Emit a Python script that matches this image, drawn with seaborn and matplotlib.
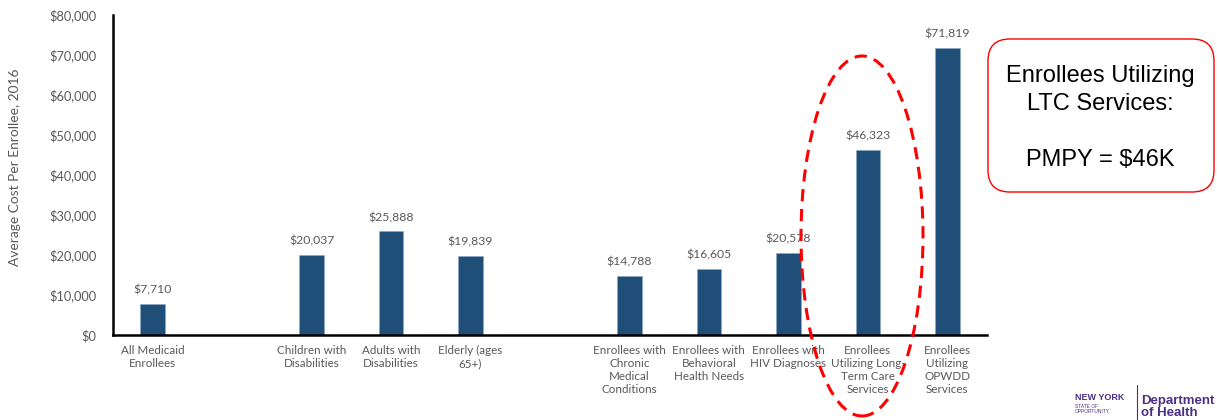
import matplotlib
matplotlib.use("Agg")
import matplotlib.pyplot as plt
import seaborn as sns
import pandas as pd
from matplotlib.patches import Ellipse, FancyBboxPatch

categories = ["All Medicaid\nEnrollees", "Children with\nDisabilities", "Adults with\nDisabilities",
              "Elderly (ages\n65+)", "Enrollees with\nChronic\nMedical\nConditions",
              "Enrollees with\nBehavioral\nHealth Needs", "Enrollees with\nHIV Diagnoses",
              "Enrollees\nUtilizing Long-\nTerm Care\nServices", "Enrollees\nUtilizing\nOPWDD\nServices"]
values = [7710, 20037, 25888, 19839, 14788, 16605, 20578, 46323, 71819]
# slot order with blank spacer slots
order = [categories[0], " ", categories[1], categories[2], categories[3], "  ",
         categories[4], categories[5], categories[6], categories[7], categories[8]]
yticks = [0, 10000, 20000, 30000, 40000, 50000, 60000, 70000, 80000]

sns.set_theme(style="white")
plt.rcParams["font.family"] = ["Lato", "DejaVu Sans"]

df = pd.DataFrame({"cat": categories, "val": values})
fig = plt.figure(figsize=(12.17, 4.2), dpi=100)
ax = fig.add_axes([113/1217, 1-335/420, (987-113)/1217, (335-15)/420])
sns.barplot(data=df, x="cat", y="val", order=order, color="#1F4E79", width=0.31,
            saturation=1, ax=ax, edgecolor="#8FA8C4", linewidth=0.4)

gray = "#595959"
ax.set_ylim(0, 80000)
ax.set_xlim(-0.5, len(order) - 0.5)
ax.set_yticks(yticks)
ax.set_yticklabels([f"${v:,}" for v in yticks], color=gray, fontsize=9.2)
ax.set_xticks(range(len(order)))
ax.set_xticklabels([o.strip() for o in order], color=gray, fontsize=8.4, linespacing=1.25, va="top")
ax.tick_params(axis="both", length=0)
ax.tick_params(axis="y", pad=12)
ax.tick_params(axis="x", pad=7)
ax.set_xlabel("")
ax.set_ylabel("Average Cost Per Enrollee, 2016", color=gray, fontsize=9.9)
ax.yaxis.set_label_coords(-0.105, 0.525)
for s in ["top", "right"]:
    ax.spines[s].set_visible(False)
for s in ["left", "bottom"]:
    ax.spines[s].set_color("black")
    ax.spines[s].set_linewidth(1.8)

for c in ax.containers:
    ax.bar_label(c, labels=[f"${v:,.0f}" if v == v else "" for v in c.datavalues],
                 padding=6, color=gray, fontsize=8.8)

# dashed ellipse highlighting LTC
ell = Ellipse((862/1217, 1-236/420), 122/1217, 360/420, angle=0, transform=fig.transFigure,
              fill=False, edgecolor="#FF0000", linestyle=(0, (4, 2.5)), linewidth=2.2, clip_on=False)
fig.add_artist(ell)

# callout box
box = FancyBboxPatch((988/1217, 1-192/420), (1214-988)/1217, (192-39)/420,
                     boxstyle="round,pad=0,rounding_size=0.018", transform=fig.transFigure,
                     facecolor="white", edgecolor="#FF0000", linewidth=1.0, mutation_aspect=1217/420)
fig.add_artist(box)
fig.text(1100/1217, 1-118/420, "Enrollees Utilizing\nLTC Services:\n\nPMPY = $46K",
         ha="center", va="center", fontsize=17, family=["Liberation Sans", "DejaVu Sans"],
         linespacing=1.37, color="black")

# logo text
purple = "#4B2F84"
fig.text(1075/1217, 1-397/420, "NEW YORK", fontsize=6.5, fontweight="bold", color=purple,
         family=["Liberation Sans"], ha="left", va="center")
fig.text(1075/1217, 1-409/420, "STATE OF\nOPPORTUNITY.", fontsize=3.5, color=purple,
         family=["Liberation Sans"], ha="left", va="center", linespacing=1.0)
fig.add_artist(plt.Line2D([1137/1217, 1137/1217], [1-385/420, 1-420/420], transform=fig.transFigure,
                          color=purple, linewidth=0.8))
fig.text(1141/1217, 1-407/420, "Department\nof Health", fontsize=9.5, fontweight="bold", color=purple,
         family=["Liberation Sans"], ha="left", va="center", linespacing=0.95)

fig.savefig("out.png", dpi=100)
